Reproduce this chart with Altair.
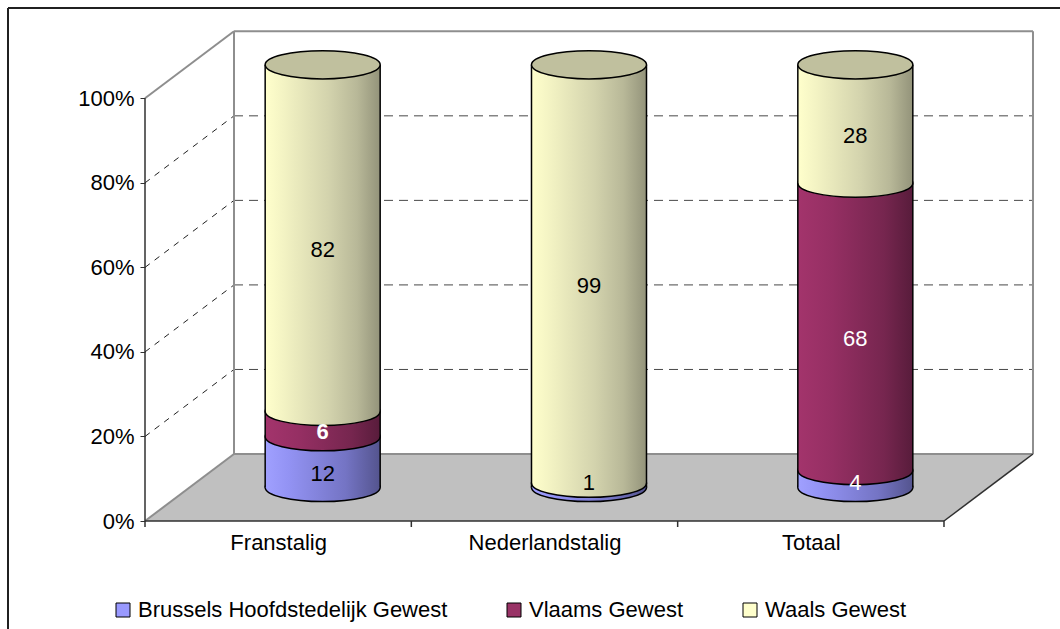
import json
import altair as alt
import pandas as pd

# ---- data -------------------------------------------------------------
categories = ["Franstalig", "Nederlandstalig", "Totaal"]
regions = ["Brussels Hoofdstedelijk Gewest", "Vlaams Gewest", "Waals Gewest"]
brussels = [12, 1, 4]
vlaams = [6, 0, 68]
waals = [82, 99, 28]
y_ticks = [0, 20, 40, 60, 80, 100]

# ---- layout (pixels) --------------------------------------------------
W, H = 1060, 629
AX_X0 = 145          # front value axis
AX_Y0 = 521          # front edge of the floor (0%)
PX_CAT = 266.33      # width of one category on the front edge
PX_PCT = 4.227       # pixels per percent
DEPTH_PX = (89, 67)  # oblique depth of the box
CYL_W = 115          # cylinder diameter
FONT = "Liberation Sans"
FS = 22

XMIN, XMAX = -AX_X0 / PX_CAT, (W - AX_X0) / PX_CAT
YMIN, YMAX = -(H - AX_Y0) / PX_PCT, AX_Y0 / PX_PCT
DX, DY = DEPTH_PX[0] / PX_CAT, DEPTH_PX[1] / PX_PCT
HALF = CYL_W / 2 / PX_CAT
NCAT = len(categories)

XSCALE = alt.Scale(domain=[XMIN, XMAX], nice=False, zero=False)
YSCALE = alt.Scale(domain=[YMIN, YMAX], nice=False, zero=False)
XAXIS = alt.Axis(
    values=[i + 0.5 for i in range(NCAT)],
    labelExpr=f"{json.dumps(categories)}[floor(datum.value)]",
    ticks=False, domain=False, grid=False, labelFlush=False,
    offset=-(H - AX_Y0), labelPadding=11,
    labelFont=FONT, labelFontSize=FS, labelColor="black", title=None,
)
YAXIS = alt.Axis(
    values=y_ticks, labelExpr="datum.value + '%'",
    domain=False, grid=False, tickSize=5, tickColor="#303030",
    offset=-AX_X0, labelPadding=6,
    labelFont=FONT, labelFontSize=FS, labelColor="black", title=None,
)


def xq(f):
    return alt.X(f"{f}:Q", scale=XSCALE, axis=XAXIS, title=None)


def yq(f):
    return alt.Y(f"{f}:Q", scale=YSCALE, axis=YAXIS, title=None)


# ---- stacked segments -------------------------------------------------
rows = []
for i, cat in enumerate(categories):
    start = 0
    for reg, vals in zip(regions, [brussels, vlaams, waals]):
        v = vals[i]
        rows.append(dict(category=cat, series=reg, value=v, start=start, end=start + v))
        start += v
seg = pd.DataFrame(rows)
seg["cx"] = seg["category"].map({c: i + 0.5 + DX / 2 for i, c in enumerate(categories)})
seg["xl"] = seg["cx"] - HALF
seg["xr"] = seg["cx"] + HALF
seg["y0"] = seg["start"] + DY / 2
seg["y1"] = seg["end"] + DY / 2
seg["ylab"] = seg["start"] + (seg["value"] / 2).clip(lower=4) + DY / 2
seg = seg[seg["value"] > 0].reset_index(drop=True)

white_labels = {("Franstalig", "Vlaams Gewest"), ("Totaal", "Vlaams Gewest"),
                ("Totaal", "Brussels Hoofdstedelijk Gewest")}
bold_labels = {("Franstalig", "Vlaams Gewest")}
seg["lcolor"] = [("white" if (c, s) in white_labels else "black")
                 for c, s in zip(seg["category"], seg["series"])]
seg["bold"] = [(c, s) in bold_labels for c, s in zip(seg["category"], seg["series"])]

cyl = seg.groupby("category", as_index=False).agg(cx=("cx", "first"), xl=("xl", "first"),
                                                  xr=("xr", "first"), ybot=("y0", "min"),
                                                  ytop=("y1", "max"))
edges = pd.concat([cyl.assign(ex=cyl["xl"]), cyl.assign(ex=cyl["xr"])])

# ---- box: floor, walls, gridlines --------------------------------------
floor = pd.DataFrame({
    "x": [0, DX, NCAT, NCAT + DX],
    "y": [0, 0, 0, DY],
    "y2": [0, DY, DY, DY],
})

gray_edges = pd.DataFrame([
    dict(x=0, y=0, x2=DX, y2=DY),
    dict(x=DX, y=DY, x2=NCAT + DX, y2=DY),
    dict(x=DX, y=DY, x2=DX, y2=100 + DY),
    dict(x=DX, y=100 + DY, x2=NCAT + DX, y2=100 + DY),
    dict(x=NCAT + DX, y=DY, x2=NCAT + DX, y2=100 + DY),
    dict(x=0, y=100, x2=DX, y2=100 + DY),
])
dark_edges = pd.DataFrame(
    [dict(x=0, y=0, x2=0, y2=100),
     dict(x=0, y=0, x2=NCAT, y2=0),
     dict(x=NCAT, y=0, x2=NCAT + DX, y2=DY)]
    + [dict(x=k, y=0, x2=k, y2=-6 / PX_PCT) for k in range(NCAT + 1)]
)
inner = [t for t in y_ticks if 0 < t < 100]
back_grid = pd.DataFrame([dict(x=DX, y=t + DY, x2=NCAT + DX, y2=t + DY) for t in inner])
side_grid = pd.DataFrame([dict(x=0, y=t, x2=DX, y2=t + DY) for t in inner])


def segments(df, **mark):
    return alt.Chart(df).mark_rule(**mark).encode(x=xq("x"), y=yq("y"), x2="x2", y2="y2")


floor_layer = alt.Chart(floor).mark_area(color="#c0c0c0", opacity=1).encode(
    x=xq("x"), y=yq("y"), y2="y2")
back_grid_layer = segments(back_grid, color="#484848", strokeWidth=1, strokeDash=[9, 6])
side_grid_layer = segments(side_grid, color="#202020", strokeWidth=1, strokeDash=[6, 6])
gray_layer = segments(gray_edges, color="#8e8e8e", strokeWidth=2)
dark_layer = segments(dark_edges, color="#303030", strokeWidth=1.5)

# ---- cylinders ---------------------------------------------------------
ELLIPSE = "M-1,0A1,0.245,0,1,1,1,0A1,0.245,0,1,1,-1,0Z"


def grad(stops):
    return alt.LinearGradient(
        gradient="linear", x1=0, x2=1, y1=0, y2=0,
        stops=[alt.GradientStop(offset=o, color=c) for o, c in stops])


fills = {
    "Brussels Hoofdstedelijk Gewest": grad([(0, "#a0a0ff"), (0.2, "#9393f4"), (0.7, "#7474c4"), (1, "#54548e")]),
    "Vlaams Gewest": grad([(0, "#a3346c"), (0.3, "#952f63"), (0.75, "#76264f"), (1, "#581c3b")]),
    "Waals Gewest": grad([(0, "#ffffcc"), (0.15, "#f4f4c4"), (0.55, "#d3d3ad"), (0.8, "#b8b898"), (1, "#93937a")]),
}
legend_colors = ["#9999ff", "#993366", "#ffffcc"]

cyl_layers = []
for reg in regions:
    part = seg[seg["series"] == reg]
    cyl_layers.append(
        alt.Chart(part).mark_point(shape=ELLIPSE, size=CYL_W ** 2, filled=True, opacity=1,
                                   fill=fills[reg], stroke="black", strokeWidth=1.5)
        .encode(x=xq("cx"), y=yq("y0")))
    cyl_layers.append(
        alt.Chart(part).mark_bar(fill=fills[reg], opacity=1, strokeWidth=0)
        .encode(x=xq("xl"), x2="xr", y=yq("y0"), y2="y1"))

side_layer = alt.Chart(edges).mark_rule(color="black", strokeWidth=1.5).encode(
    x=xq("ex"), y=yq("ybot"), y2="ytop")
cap_layer = alt.Chart(cyl).mark_point(shape=ELLIPSE, size=CYL_W ** 2, filled=True, opacity=1,
                                      fill="#c0c09e", stroke="black", strokeWidth=1.5).encode(
    x=xq("cx"), y=yq("ytop"))

label_enc = dict(x=xq("cx"), y=yq("ylab"), text="value:Q", color=alt.Color("lcolor:N", scale=None))
labels = alt.Chart(seg[~seg["bold"]]).mark_text(font=FONT, fontSize=FS, dy=12).encode(**label_enc)
labels_bold = alt.Chart(seg[seg["bold"]]).mark_text(font=FONT, fontSize=FS, fontWeight="bold",
                                                    dy=12).encode(**label_enc)

legend_layer = alt.Chart(seg).mark_square(opacity=0).encode(
    x=xq("cx"), y=yq("y0"),
    color=alt.Color("series:N", scale=alt.Scale(domain=regions, range=legend_colors),
                    legend=alt.Legend(orient="none", legendX=112, legendY=599,
                                      direction="horizontal", title=None,
                                      symbolType="square", symbolSize=196,
                                      symbolStrokeColor="black", symbolStrokeWidth=1,
                                      symbolOpacity=1, labelFont=FONT, labelFontSize=FS,
                                      labelColor="black", labelLimit=500,
                                      columnPadding=55, labelOffset=4)))

# outer frame
frame = pd.DataFrame({"k": [0]})
frame_left = alt.Chart(frame).mark_rule(color="#202020", strokeWidth=2).encode(
    x=alt.value(8), y=alt.value(8), y2=alt.value(H))
frame_top = alt.Chart(frame).mark_rule(color="#202020", strokeWidth=2).encode(
    x=alt.value(8), x2=alt.value(W), y=alt.value(8))

chart = alt.layer(
    floor_layer, back_grid_layer, side_grid_layer, gray_layer, dark_layer,
    *cyl_layers, side_layer, cap_layer, labels, labels_bold, legend_layer,
    frame_left, frame_top,
).properties(
    width=W, height=H, padding=0, autosize="none", background="white",
).configure_view(stroke=None)

chart.save("out.html", embed_options={"renderer": "svg", "actions": False})
